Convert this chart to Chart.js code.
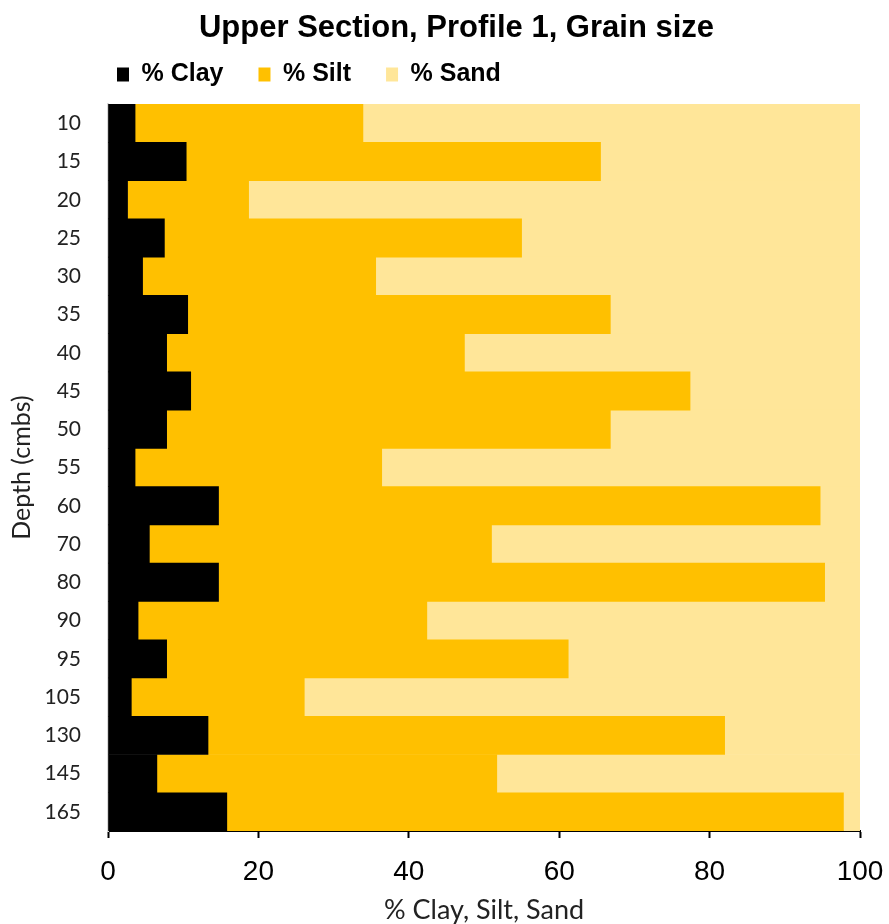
<!DOCTYPE html>
<html>
<head>
<meta charset="utf-8">
<script src="https://cdn.jsdelivr.net/npm/chart.js@4.4.1/dist/chart.umd.min.js"></script>
<style>
  html, body { margin: 0; padding: 0; background: #fff; }
  #wrap { width: 889px; height: 924px; }
</style>
</head>
<body>
<div id="wrap"><canvas id="grainChart"></canvas></div>
<script>
// depth categories (cm below surface)
const depths = ['10', '15', '20', '25', '30', '35', '40', '45', '50', '55', '60', '70', '80', '90', '95', '105', '130', '145', '165'];

// percentages
const clay = [3.6, 10.4, 2.6, 7.5, 4.6, 10.6, 7.8, 11.0, 7.8, 3.6, 14.7, 5.5, 14.7, 4.0, 7.8, 3.1, 13.3, 6.5, 15.8];
const silt = [30.3, 55.1, 16.1, 47.5, 31.0, 56.2, 39.6, 66.4, 59.0, 32.8, 80.0, 45.5, 80.6, 38.4, 53.4, 23.0, 68.7, 45.2, 82.0];
const sand = [66.1, 34.5, 81.3, 45.0, 64.4, 33.2, 52.6, 22.6, 33.2, 63.6, 5.3, 49.0, 4.7, 57.6, 38.8, 73.9, 18.0, 48.3, 2.2];

const xTicks = [0, 20, 40, 60, 80, 100];

// nudge title / legend to where the original puts them
const placeBlocks = {
    id: 'placeBlocks',
    afterLayout(chart) {
        if (chart.titleBlock) {
            chart.titleBlock.left = 53;
            chart.titleBlock.top = 11;
        }
        if (chart.legend) {
            chart.legend.left = 82;
            chart.legend.top = 27;
        }
    },
};

const ctx = document.getElementById('grainChart').getContext('2d');
new Chart(ctx, {
    type: 'bar',
    data: {
        labels: depths,
        datasets: [
            { label: '% Clay', data: clay, backgroundColor: '#000000' },
            { label: '% Silt', data: silt, backgroundColor: '#FFC000' },
            { label: '% Sand', data: sand, backgroundColor: '#FFE699' },
        ],
    },
    options: {
        indexAxis: 'y',
        responsive: true,
        maintainAspectRatio: false,
        animation: false,
        layout: { padding: { left: 0, right: 29, top: 0, bottom: 0 } },
        datasets: {
            bar: { barPercentage: 1.0, categoryPercentage: 1.0, borderWidth: 0 },
        },
        plugins: {
            title: {
                display: true,
                text: 'Upper Section, Profile 1, Grain size',
                color: '#000',
                font: { family: 'Liberation Sans, Arial, sans-serif', size: 31, weight: 'bold', lineHeight: 1.1 },
                padding: { top: 0, bottom: 0 },
            },
            legend: {
                position: 'top',
                align: 'start',
                labels: {
                    color: '#000',
                    font: { family: 'Liberation Sans, Arial, sans-serif', size: 25, weight: 'bold' },
                    boxWidth: 12,
                    boxHeight: 14,
                    padding: 35,
                },
            },
            tooltip: { enabled: false },
        },
        scales: {
            x: {
                stacked: true,
                min: 0,
                max: 100,
                afterBuildTicks(scale) {
                    scale.ticks = xTicks.map((v) => ({ value: v }));
                },
                afterFit(scale) {
                    scale.height = 93;
                    scale.paddingLeft = 0;
                    scale.paddingRight = 0;
                },
                grid: {
                    drawOnChartArea: false,
                    drawTicks: true,
                    tickLength: 7,
                    tickWidth: 2,
                    color: '#000',
                },
                border: { display: true, color: '#000', width: 2 },
                ticks: {
                    color: '#000',
                    padding: 17,
                    font: { family: 'Liberation Sans, Arial, sans-serif', size: 28 },
                },
                title: {
                    display: true,
                    text: '% Clay, Silt, Sand',
                    color: '#222',
                    font: { family: 'Lato, Liberation Sans, sans-serif', size: 27, lineHeight: 1.0 },
                    padding: { top: 0, bottom: 0 },
                },
            },
            y: {
                stacked: true,
                afterFit(scale) {
                    scale.width = 108;
                },
                grid: { display: false, drawTicks: false },
                border: { display: true, color: '#d9d9d9', width: 2 },
                ticks: {
                    color: '#222',
                    padding: 27,
                    font: { family: 'Lato, Open Sans, sans-serif', size: 21 },
                },
                title: {
                    display: true,
                    text: 'Depth (cmbs)',
                    color: '#222',
                    font: { family: 'Lato, Liberation Sans, sans-serif', size: 25 },
                    padding: { top: 7, bottom: 0 },
                },
            },
        },
    },
    plugins: [placeBlocks],
});
</script>
</body>
</html>
